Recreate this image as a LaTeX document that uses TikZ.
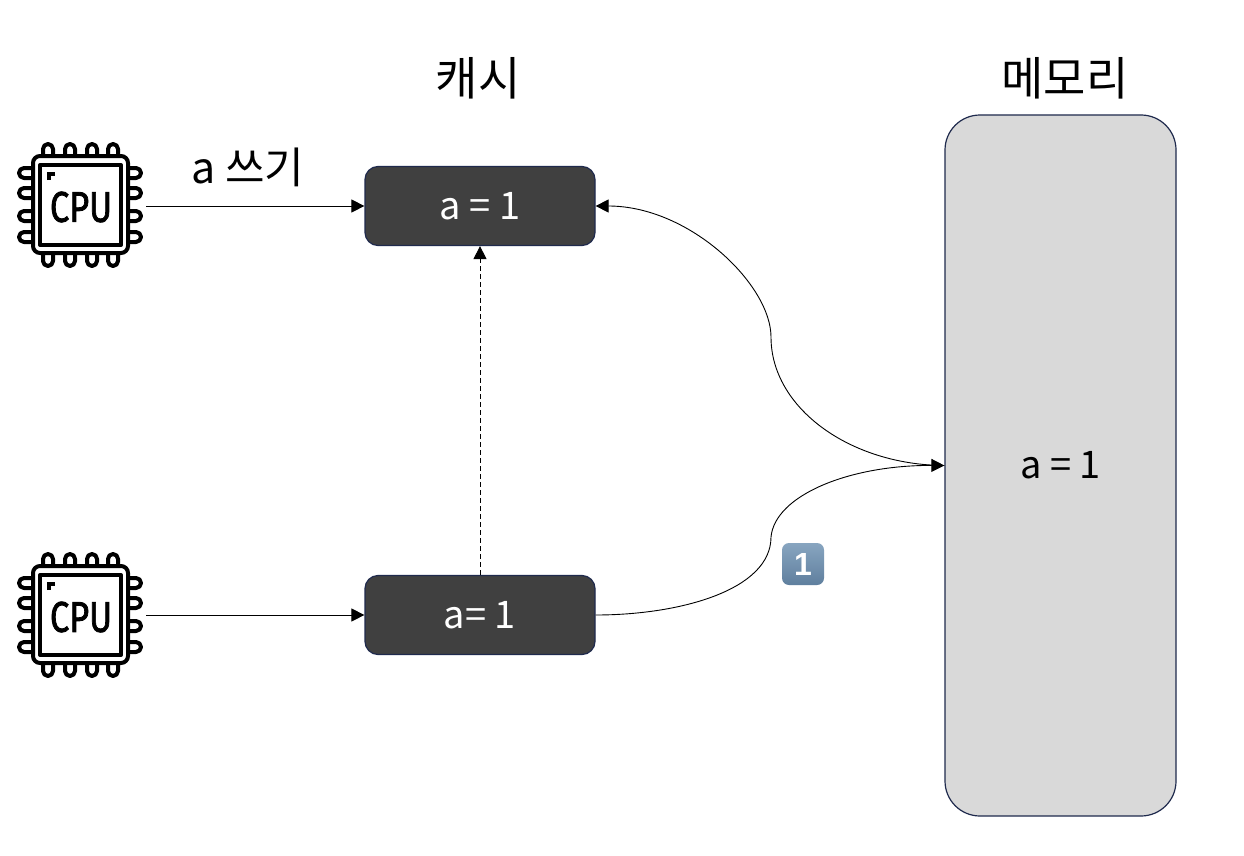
\documentclass[tikz,border=0pt]{standalone}
\usepackage{fontspec}
\setmainfont{Noto Sans CJK KR}
\newfontfamily\cpufont[FakeBold=2]{Fira Sans}
\newfontfamily\badgefont{Liberation Sans}
\usetikzlibrary{arrows.meta}
\definecolor{darkbox}{HTML}{404040}
\definecolor{edgeblue}{HTML}{1F2A4D}
\definecolor{memfill}{HTML}{D9D9D9}
\definecolor{BadgeTop}{HTML}{88A5C0}
\definecolor{BadgeBot}{HTML}{5F7F9E}
\tikzset{
  cachebox/.style={draw=edgeblue,line width=1.2pt,fill=darkbox,rounded corners=13pt,minimum width=230pt,minimum height=79pt,inner sep=0pt,text=white,font=\fontsize{38}{42}\selectfont},
  membox/.style={draw=edgeblue,line width=1.2pt,fill=memfill,rounded corners=35pt,minimum width=231pt,minimum height=701pt,inner sep=0pt,font=\fontsize{38}{42}\selectfont},
  title/.style={font=\fontsize{46}{52}\selectfont,inner sep=0pt},
  conn/.style={line width=0.9pt,-{Triangle[length=13pt,width=13pt]}},
  cpuline/.style={draw=black,fill=white,line width=4pt,line join=round},
  cpubox/.style={minimum width=132pt,minimum height=132pt,inner sep=0pt},
  cpulabel/.style={inner sep=0pt,xscale=.8,font=\cpufont\fontsize{43}{48}\selectfont},
  badge/.style={rounded corners=7pt,minimum width=42pt,minimum height=42pt,inner sep=0pt,top color=BadgeTop,bottom color=BadgeBot,text=white,font=\badgefont\bfseries\fontsize{32}{36}\selectfont}
}
\newcommand{\cpuicon}[2]{%
\begin{scope}[shift={(#1,#2)}]
  \foreach \p in {-32,-10,12,33}{
    \draw[cpuline,rounded corners=5pt] ({\p-5},-62) rectangle ({\p+5},60);
  }
  \foreach \p in {-33,-13,10,31}{
    \draw[cpuline,rounded corners=5pt] (-61,{\p-5}) rectangle (61,{\p+5});
  }
  \draw[cpuline,rounded corners=7pt] (-47,-50) rectangle (48,47);
  \draw[cpuline] (-40,-41) rectangle (41,39);
  \draw[line width=4pt] (-31.5,-26) -- (-31.5,-32) -- (-25,-32);
\end{scope}}
\begin{document}
\begin{tikzpicture}[x=1pt,y=-1pt]
\useasboundingbox (0,0) rectangle (1244,856);
\fill[white] (0,0) rectangle (1244,856);
\node[title] (t1) at (478,78) {캐시};
\node[title] (t2) at (1065,78) {메모리};
\node[font=\fontsize{43}{48}\selectfont,inner sep=0pt] (t3) at (248,167) {a 쓰기};
\node[cachebox] (c1) at (480,206) {a = 1};
\node[cachebox] (c2) at (480,615) {a= 1};
\node[membox] (mem) at (1060.5,465.5) {a = 1};
\node[cpubox] (cpu1) at (80,206) {};
\node[cpubox] (cpu2) at (80,615) {};
\cpuicon{80}{206}
\cpuicon{80}{616}
\node[cpulabel] (l1) at (81,207) {CPU};
\node[cpulabel] (l2) at (81,617) {CPU};
\node[badge] (b1) at (803,564) {1};
\draw[conn] (cpu1.east) -- (c1.west);
\draw[conn] (cpu2.east) -- (c2.west);
\draw[conn,dash pattern=on 5pt off 3pt] (c2.north) -- (c1.south);
\draw[conn] (mem.west) .. controls (850,465) and (771,408) .. (771,337) .. controls (771,285) and (690,206) .. (c1.east);
\draw[conn] (c2.east) .. controls (680,615) and (771,590) .. (771,537) .. controls (775,495) and (850,465) .. (mem.west);
\end{tikzpicture}
\end{document}
